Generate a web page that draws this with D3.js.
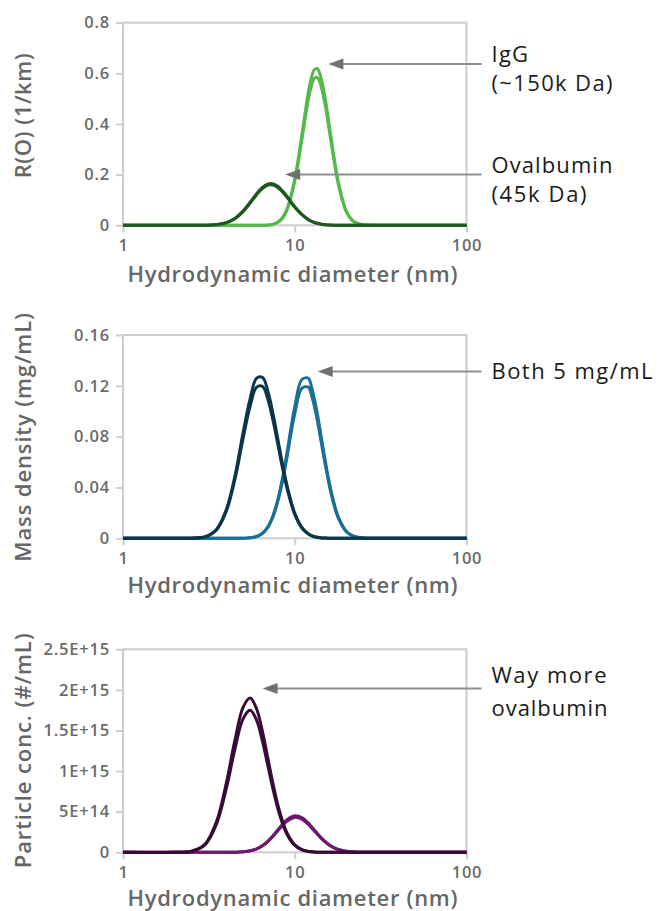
<!DOCTYPE html>
<html><head><meta charset="utf-8">
<script src="https://cdn.jsdelivr.net/npm/d3@7"></script>
<style>body{margin:0;background:#fff}svg{display:block}</style>
</head><body>
<svg id="chart" width="658" height="911"></svg>
<script>
// ---------- DATA ----------
const diameters = [1,2,2.5,3,3.5,4,4.5,5,5.5,6,6.5,7,7.5,8,8.5,9,10,11,12,12.5,13,13.5,14,15,16,17,18,20,22,25,30,40,100];

const xTickValues = [1, 10, 100];
const xTickLabels = ["1", "10", "100"];

const r0Ticks = [0, 0.2, 0.4, 0.6, 0.8];
const r0TickLabels = ["0", "0.2", "0.4", "0.6", "0.8"];
const massTicks = [0, 0.04, 0.08, 0.12, 0.16];
const massTickLabels = ["0", "0.04", "0.08", "0.12", "0.16"];
const concTicks = [0, 5e14, 1e15, 1.5e15, 2e15, 2.5e15];
const concTickLabels = ["0", "5E+14", "1E+15", "1.5E+15", "2E+15", "2.5E+15"];

// R(0) – IgG (two runs) and ovalbumin (two runs)
const r0IgG1 = [0,0,0,0,0,0,0,0,0,0,0.0003,0.0014,0.0047,0.013,0.031,0.063,0.183,0.357,0.526,0.583,0.614,0.619,0.599,0.506,0.381,0.262,0.166,0.055,0.016,0.002,0,0,0];
const r0IgG2 = [0,0,0,0,0,0,0,0,0,0,0.0003,0.0013,0.0044,0.012,0.029,0.059,0.173,0.337,0.497,0.550,0.580,0.584,0.565,0.478,0.360,0.247,0.157,0.052,0.015,0.002,0,0,0];
const r0Ova1 = [0,0,0,0.0004,0.0027,0.0106,0.028,0.056,0.091,0.125,0.151,0.1635,0.1635,0.153,0.135,0.115,0.073,0.043,0.023,0.016,0.0114,0.008,0.0056,0.0027,0.0012,0.0006,0.0003,0,0,0,0,0,0];
const r0Ova2 = [0,0,0,0.0004,0.0026,0.0103,0.027,0.054,0.088,0.121,0.146,0.159,0.159,0.148,0.131,0.112,0.071,0.042,0.022,0.016,0.011,0.008,0.0054,0.0026,0.0012,0.0006,0.0003,0,0,0,0,0,0];

// Mass density (mg/mL)
const massIgG1 = [0,0,0,0,0,0,0,0.0001,0.0004,0.0015,0.0041,0.0094,0.0185,0.0315,0.048,0.067,0.1035,0.125,0.126,0.1196,0.110,0.099,0.0866,0.0623,0.0419,0.0268,0.0163,0.0054,0.0017,0.0002,0,0,0];
const massIgG2 = [0,0,0,0,0,0,0,0.0001,0.0004,0.0014,0.0039,0.0089,0.0175,0.0298,0.0454,0.0633,0.0978,0.118,0.119,0.113,0.104,0.0936,0.0818,0.0589,0.0396,0.0253,0.0154,0.0051,0.0016,0.0002,0,0,0];
const massOva1 = [0,0,0.0001,0.0012,0.007,0.0228,0.050,0.083,0.110,0.126,0.1265,0.115,0.097,0.077,0.058,0.042,0.0198,0.0086,0.0035,0.0022,0.0013,0.0008,0.0005,0.0002,0,0,0,0,0,0,0,0,0];
const massOva2 = [0,0,0.0001,0.0011,0.0066,0.0215,0.0473,0.0784,0.104,0.119,0.1195,0.1087,0.0917,0.0728,0.0548,0.0397,0.0187,0.0081,0.0033,0.0021,0.0012,0.0008,0.0005,0.0002,0,0,0,0,0,0,0,0,0];

// Particle concentration (#/mL)
const concIgG1 = [0,0,0,0,0,0.003e14,0.017e14,0.065e14,0.187e14,0.436e14,0.846e14,1.41e14,2.09e14,2.81e14,3.46e14,4.0e14,4.5e14,4.27e14,3.59e14,3.17e14,2.75e14,2.36e14,1.98e14,1.34e14,0.876e14,0.556e14,0.34e14,0.12e14,0.041e14,0.008e14,0,0,0];
const concIgG2 = [0,0,0,0,0,0.003e14,0.016e14,0.062e14,0.179e14,0.417e14,0.809e14,1.35e14,2.0e14,2.69e14,3.31e14,3.82e14,4.3e14,4.08e14,3.43e14,3.03e14,2.63e14,2.26e14,1.89e14,1.28e14,0.837e14,0.532e14,0.325e14,0.115e14,0.039e14,0.008e14,0,0,0];
const concOva1 = [0,0.0004e15,0.0125e15,0.099e15,0.376e15,0.858e15,1.396e15,1.784e15,1.899e15,1.765e15,1.477e15,1.14e15,0.827e15,0.571e15,0.380e15,0.242e15,0.0925e15,0.0334e15,0.0114e15,0.0066e15,0.0038e15,0.002e15,0.0013e15,0.0004e15,0,0,0,0,0,0,0,0,0];
const concOva2 = [0,0.0004e15,0.0115e15,0.091e15,0.346e15,0.790e15,1.286e15,1.643e15,1.749e15,1.626e15,1.360e15,1.050e15,0.762e15,0.526e15,0.350e15,0.223e15,0.085e15,0.031e15,0.0105e15,0.0061e15,0.0035e15,0.0018e15,0.0012e15,0.0004e15,0,0,0,0,0,0,0,0,0];

// Annotations: text lines and the data point the arrow points to
const annR0 = [
  {lines: ["IgG", "(~150k Da)"], d: 15.7, v: 0.637},
  {lines: ["Ovalbumin", "(45k Da)"], d: 8.8, v: 0.201}
];
const annMass = [{lines: ["Both 5 mg/mL"], d: 13.6, v: 0.1313}];
const annConc = [{lines: ["Way more", "ovalbumin"], d: 6.5, v: 2.017e15}];

const xTitle = "Hydrodynamic diameter (nm)";

// ---------- LAYOUT ----------
const svg = d3.select("#chart");
const FONT = "'Open Sans', 'Noto Sans', sans-serif";
const x = d3.scaleLog().domain([1, 100]).range([123, 466.5]);

const panels = [
  {top: 22.7, bottom: 225.3, domain: [0, 0.8], ticks: r0Ticks, labels: r0TickLabels,
   title: "R(O) (1/km)", titleY: 115.8, titleLen: 125, xTitleDy: 57,
   series: [{v: r0IgG1, c: "#54b94a"}, {v: r0IgG2, c: "#54b94a"}, {v: r0Ova1, c: "#1f5720"}, {v: r0Ova2, c: "#1f5720"}],
   ann: annR0,
   annLayout: [{dys: [-2.3, 26.7], lens: [36.6, 121]}, {dys: [-1.6, 27.4], lens: [121, 95]}]},
  {top: 335, bottom: 538.3, domain: [0, 0.16], ticks: massTicks, labels: massTickLabels,
   title: "Mass density (mg/mL)", titleY: 437.3, titleLen: 248.7, xTitleDy: 55,
   series: [{v: massIgG1, c: "#196f96"}, {v: massIgG2, c: "#196f96"}, {v: massOva1, c: "#0c3548"}, {v: massOva2, c: "#0c3548"}],
   ann: annMass,
   annLayout: [{dys: [7.5], lens: [161]}]},
  {top: 649.3, bottom: 852.3, domain: [0, 2.5e15], ticks: concTicks, labels: concTickLabels,
   title: "Particle conc. (#/mL)", titleY: 750.8, titleLen: 235, xTitleDy: 53.5,
   series: [{v: concIgG1, c: "#6c1a6c"}, {v: concIgG2, c: "#6c1a6c"}, {v: concOva1, c: "#380a36"}, {v: concOva2, c: "#380a36"}],
   ann: annConc,
   annLayout: [{dys: [-5.2, 27.2], lens: [115, 116]}]}
];

const GRID = "#cdcdcd";

panels.forEach(p => {
  const y = d3.scaleLinear().domain(p.domain).range([p.bottom, p.top]);
  const g = svg.append("g");

  // frame
  g.append("rect")
    .attr("x", x.range()[0]).attr("y", p.top)
    .attr("width", x.range()[1] - x.range()[0]).attr("height", p.bottom - p.top)
    .attr("fill", "none").attr("stroke", GRID).attr("stroke-width", 2);

  // y axis
  const ya = g.append("g").attr("transform", `translate(${x.range()[0]},0)`)
    .call(d3.axisLeft(y).tickValues(p.ticks).tickFormat((d, i) => p.labels[i]).tickSize(7).tickPadding(6));
  ya.select(".domain").remove();
  ya.selectAll(".tick line").attr("stroke", GRID).attr("stroke-width", 2);
  ya.selectAll(".tick text").attr("fill", "#6a6a6a").style("font-family", FONT)
    .style("font-size", "16.5px").style("font-weight", 600).style("letter-spacing", "0.8px");

  // x axis
  const xa = g.append("g").attr("transform", `translate(0,${p.bottom})`)
    .call(d3.axisBottom(x).tickValues(xTickValues).tickFormat((d, i) => xTickLabels[i]).tickSize(7).tickPadding(7));
  xa.select(".domain").remove();
  xa.selectAll(".tick line").attr("stroke", GRID).attr("stroke-width", 2);
  xa.selectAll(".tick text").attr("fill", "#6a6a6a").style("font-family", FONT)
    .style("font-size", "16.5px").style("font-weight", 600).style("letter-spacing", "0.8px");

  // titles
  g.append("text").text(xTitle)
    .attr("x", 292.5).attr("y", p.bottom + p.xTitleDy)
    .attr("text-anchor", "middle").attr("fill", "#666")
    .attr("textLength", 330).attr("lengthAdjust", "spacing")
    .style("font-family", FONT).style("font-size", "22px").style("font-weight", 600);
  g.append("text").text(p.title)
    .attr("transform", `translate(31,${p.titleY}) rotate(-90)`)
    .attr("text-anchor", "middle").attr("fill", "#666")
    .attr("textLength", p.titleLen).attr("lengthAdjust", "spacing")
    .style("font-family", FONT).style("font-size", "22px").style("font-weight", 600);

  // series
  const line = d3.line()
    .x((d, i) => x(diameters[i]))
    .y(d => y(d))
    .curve(d3.curveCatmullRom.alpha(0.5));
  p.series.forEach(s => {
    g.append("path").datum(s.v)
      .attr("d", line).attr("fill", "none")
      .attr("stroke", s.c).attr("stroke-width", 3)
      .attr("stroke-linejoin", "round");
  });

  // annotations
  p.ann.forEach((a, k) => {
    const lay = p.annLayout[k];
    const tx = x(a.d), ty = y(a.v);
    const lineEnd = x.range()[1] + 15;
    g.append("line").attr("x1", tx + 12).attr("x2", lineEnd)
      .attr("y1", ty).attr("y2", ty)
      .attr("stroke", "#8d8d8d").attr("stroke-width", 2);
    g.append("path")
      .attr("d", `M${tx},${ty} L${tx + 15},${ty - 5.5} L${tx + 15},${ty + 5.5} Z`)
      .attr("fill", "#707070");
    a.lines.forEach((t, j) => {
      g.append("text").text(t)
        .attr("x", x.range()[1] + 25).attr("y", ty + lay.dys[j])
        .attr("fill", "#1a1a1a")
        .attr("textLength", lay.lens[j]).attr("lengthAdjust", "spacing")
        .style("font-family", FONT).style("font-size", "22px").style("font-weight", 500);
    });
  });
});
</script>
</body></html>
